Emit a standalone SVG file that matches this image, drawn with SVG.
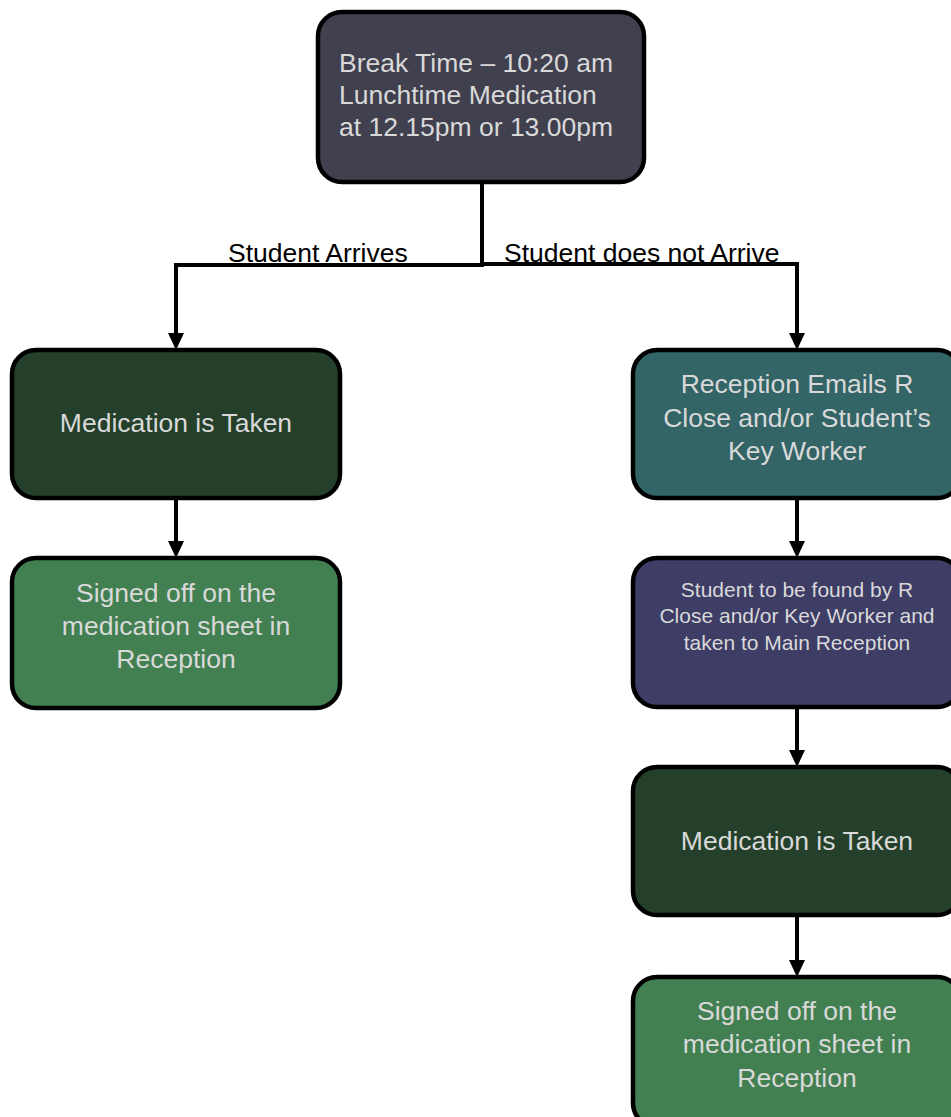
<svg xmlns="http://www.w3.org/2000/svg" width="951" height="1117" viewBox="0 0 951 1117">
<style>
.box{stroke:#000;stroke-width:4.5}
.t{font-family:"Liberation Sans",Arial,sans-serif;font-size:26.5px;fill:#d9d9d9;text-anchor:middle}
.s{font-size:21px}
.lbl{font-family:"Liberation Sans",Arial,sans-serif;font-size:26.5px;fill:#000}
.c{stroke:#000;stroke-width:4;fill:none}
</style>
<rect width="951" height="1117" fill="#fff"/>
<g id="connectors">
<polyline class="c" points="482,183 482,265 176,265 176,336"/>
<polyline class="c" points="482,264 797,264 797,336"/>
<polygon points="168,333 184,333 176,350"/>
<polygon points="789,333 805,333 797,350"/>
<line class="c" x1="176" y1="498" x2="176" y2="544"/>
<polygon points="168,541 184,541 176,558"/>
<line class="c" x1="797" y1="498" x2="797" y2="544"/>
<polygon points="789,541 805,541 797,558"/>
<line class="c" x1="797" y1="707" x2="797" y2="753"/>
<polygon points="789,750 805,750 797,767"/>
<line class="c" x1="797" y1="915" x2="797" y2="963"/>
<polygon points="789,960 805,960 797,977"/>
<text class="lbl" x="228" y="262">Student Arrives</text>
<text class="lbl" x="504" y="262">Student does not Arrive</text>
</g>
<g id="start">
<rect class="box" x="318" y="12" width="326" height="170" rx="24" fill="#40404f"/>
<text class="t" style="text-anchor:start" x="339" y="72">Break Time – 10:20 am</text>
<text class="t" style="text-anchor:start" x="339" y="104">Lunchtime Medication</text>
<text class="t" style="text-anchor:start" x="339" y="136">at 12.15pm or 13.00pm</text>
</g>
<g id="taken-left">
<rect class="box" x="12" y="350" width="328" height="148" rx="24" fill="#24402a"/>
<text class="t" x="176" y="432">Medication is Taken</text>
</g>
<g id="signed-left">
<rect class="box" x="12" y="558" width="328" height="150" rx="24" fill="#428052"/>
<text class="t" x="176" y="602">Signed off on the</text>
<text class="t" x="176" y="635">medication sheet in</text>
<text class="t" x="176" y="668">Reception</text>
</g>
<g id="emails">
<rect class="box" x="633" y="350" width="328" height="148" rx="24" fill="#336466"/>
<text class="t" x="797" y="393">Reception Emails R</text>
<text class="t" x="797" y="427">Close and/or Student’s</text>
<text class="t" x="797" y="460">Key Worker</text>
</g>
<g id="found">
<rect class="box" x="633" y="558" width="328" height="149" rx="24" fill="#3d3d66"/>
<text class="t s" x="797" y="597">Student to be found by R</text>
<text class="t s" x="797" y="623">Close and/or Key Worker and</text>
<text class="t s" x="797" y="650">taken to Main Reception</text>
</g>
<g id="taken-right">
<rect class="box" x="633" y="767" width="328" height="148" rx="24" fill="#24402a"/>
<text class="t" x="797" y="850">Medication is Taken</text>
</g>
<g id="signed-right">
<rect class="box" x="633" y="977" width="328" height="150" rx="24" fill="#428052"/>
<text class="t" x="797" y="1020">Signed off on the</text>
<text class="t" x="797" y="1053">medication sheet in</text>
<text class="t" x="797" y="1087">Reception</text>
</g>
</svg>
